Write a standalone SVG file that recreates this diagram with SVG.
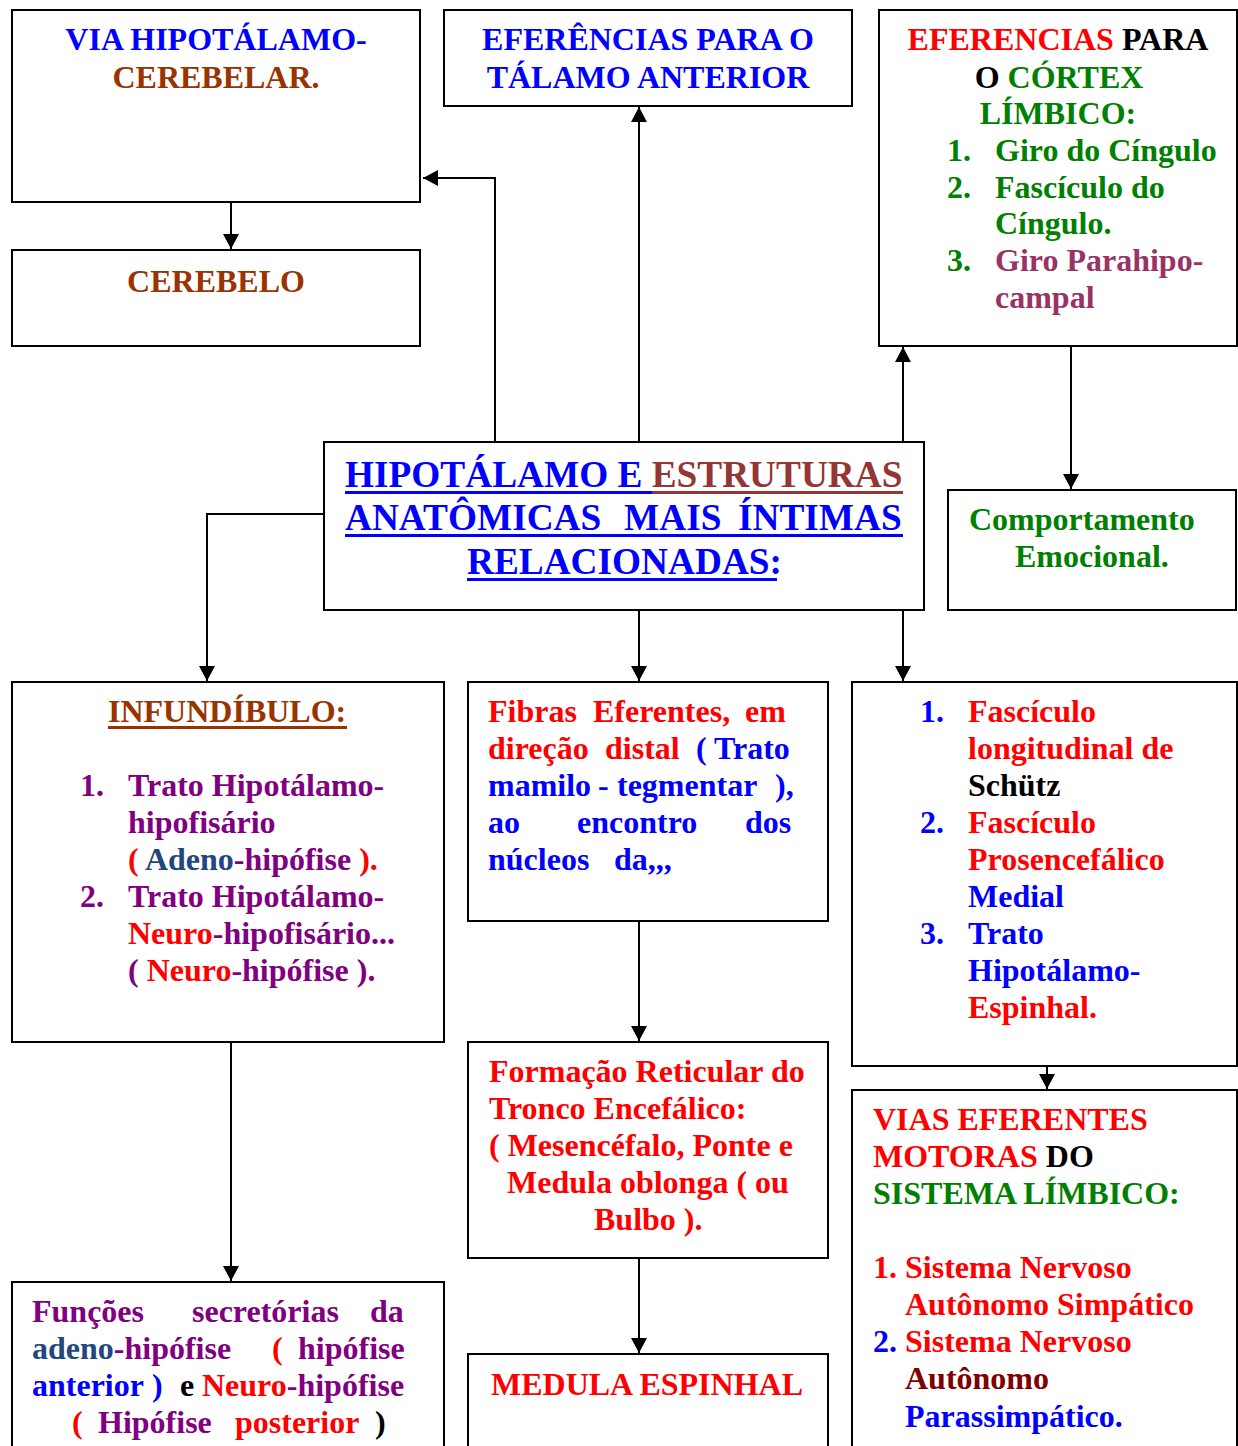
<svg xmlns="http://www.w3.org/2000/svg" width="1238" height="1446" viewBox="0 0 1238 1446">
  <style>
    .box { fill: #ffffff; stroke: #000000; stroke-width: 2; }
    .wire { fill: none; stroke: #000000; stroke-width: 2; }
    text { font-family: "Liberation Serif", "Times New Roman", serif; font-weight: bold; font-size: 32px; }
    .title { font-size: 37.3px; }
    .mid { text-anchor: middle; }
    .blue { fill: #0000ff; }
    .red { fill: #ff0000; }
    .green { fill: #008000; }
    .black { fill: #000000; }
    .rust { fill: #993300; }
    .brick { fill: #943634; }
    .mauve { fill: #993366; }
    .purple { fill: #800080; }
    .navy { fill: #1f497d; }
    .maroon { fill: #800000; }
  </style>
  <defs>
    <marker id="arrow" viewBox="0 0 15 16" markerWidth="15" markerHeight="16" refX="15" refY="8" orient="auto" markerUnits="userSpaceOnUse">
      <path d="M0,0 L15,8 L0,16 z" fill="#000000"/>
    </marker>
  </defs>
  <rect width="1238" height="1446" fill="#ffffff"/>

  <!-- connectors -->
  <g id="connectors">
    <path class="wire" d="M495,442 V178 H423" marker-end="url(#arrow)"/>
    <path class="wire" d="M231,202 V249" marker-end="url(#arrow)"/>
    <path class="wire" d="M639,442 V107" marker-end="url(#arrow)"/>
    <path class="wire" d="M903,442 V347" marker-end="url(#arrow)"/>
    <path class="wire" d="M1071,346 V489" marker-end="url(#arrow)"/>
    <path class="wire" d="M327,514 H207 V681" marker-end="url(#arrow)"/>
    <path class="wire" d="M639,610 V681" marker-end="url(#arrow)"/>
    <path class="wire" d="M903,610 V681" marker-end="url(#arrow)"/>
    <path class="wire" d="M639,921 V1041" marker-end="url(#arrow)"/>
    <path class="wire" d="M639,1258 V1353" marker-end="url(#arrow)"/>
    <path class="wire" d="M231,1042 V1281" marker-end="url(#arrow)"/>
    <path class="wire" d="M1047,1066 V1089" marker-end="url(#arrow)"/>
  </g>

  <!-- cerebellar pathway -->
  <g id="via-cerebelar">
    <rect class="box" x="12" y="10" width="408" height="192"/>
    <text class="mid blue" x="216" y="50">VIA HIPOTÁLAMO-</text>
    <text class="mid rust" x="216" y="88">CEREBELAR.</text>
  </g>

  <g id="cerebelo">
    <rect class="box" x="12" y="250" width="408" height="96"/>
    <text class="mid rust" x="216" y="292">CEREBELO</text>
  </g>

  <g id="talamo-anterior">
    <rect class="box" x="444" y="10" width="408" height="96"/>
    <text class="mid blue" x="648" y="50">EFERÊNCIAS PARA O</text>
    <text class="mid blue" x="648" y="88">TÁLAMO ANTERIOR</text>
  </g>

  <g id="cortex-limbico">
    <rect class="box" x="879" y="10" width="358" height="336"/>
    <text class="mid" x="1058" y="50"><tspan class="red">EFERENCIAS</tspan><tspan class="black"> PARA</tspan></text>
    <text class="mid" x="1059" y="88"><tspan class="black">O </tspan><tspan class="green">CÓRTEX</tspan></text>
    <text class="mid green" x="1058" y="124">LÍMBICO:</text>
    <text class="green" x="947" y="161">1.</text>
    <text class="green" x="995" y="161">Giro do Cíngulo</text>
    <text class="green" x="947" y="198">2.</text>
    <text class="green" x="995" y="198">Fascículo do</text>
    <text class="green" x="995" y="234">Cíngulo.</text>
    <text class="green" x="947" y="271">3.</text>
    <text class="mauve" x="995" y="271">Giro Parahipo-</text>
    <text class="mauve" x="995" y="308">campal</text>
  </g>

  <!-- central node -->
  <g id="hipotalamo">
    <rect class="box" x="324" y="442" width="600" height="168"/>
    <text class="title" x="345" y="487"><tspan class="blue">HIPOTÁLAMO E </tspan><tspan class="brick">ESTRUTURAS</tspan></text>
    <rect x="345" y="491" width="307" height="3" fill="#0000ff"/>
    <rect x="652" y="491" width="251" height="3" fill="#943634"/>
    <text class="title blue" y="530"><tspan x="345">ANATÔMICAS</tspan><tspan x="624">MAIS</tspan><tspan x="738">ÍNTIMAS</tspan></text>
    <rect x="345" y="534" width="558" height="3" fill="#0000ff"/>
    <text class="title blue" x="467" y="574">RELACIONADAS:</text>
    <rect x="467" y="578" width="310" height="3" fill="#0000ff"/>
  </g>

  <g id="comportamento">
    <rect class="box" x="948" y="490" width="288" height="120"/>
    <text class="green" x="969" y="530">Comportamento</text>
    <text class="green" x="1015" y="567">Emocional.</text>
  </g>

  <g id="infundibulo">
    <rect class="box" x="12" y="682" width="432" height="360"/>
    <text class="rust" x="108" y="722">INFUNDÍBULO:</text>
    <rect x="108" y="726" width="239" height="3" fill="#993300"/>
    <text class="purple" x="80" y="796">1.</text>
    <text class="purple" x="128" y="796">Trato Hipotálamo-</text>
    <text class="purple" x="128" y="833">hipofisário</text>
    <text x="128" y="870"><tspan class="red">( </tspan><tspan class="navy">Adeno</tspan><tspan class="purple">-hipófise</tspan><tspan class="red"> ).</tspan></text>
    <text class="purple" x="80" y="907">2.</text>
    <text class="purple" x="128" y="907">Trato Hipotálamo-</text>
    <text x="128" y="944"><tspan class="red">Neuro</tspan><tspan class="purple">-hipofisário...</tspan></text>
    <text x="128" y="981"><tspan class="purple">( </tspan><tspan class="red">Neuro</tspan><tspan class="purple">-hipófise ).</tspan></text>
  </g>

  <g id="fibras-eferentes">
    <rect class="box" x="468" y="682" width="360" height="239"/>
    <text class="red" y="722"><tspan x="488">Fibras</tspan><tspan x="593">Eferentes,</tspan><tspan x="745">em</tspan></text>
    <text y="759"><tspan class="red" x="488">direção</tspan><tspan class="red" x="605">distal</tspan><tspan class="blue" x="696">(</tspan><tspan class="blue" x="714">Trato</tspan></text>
    <text class="blue" y="796"><tspan x="488">mamilo</tspan><tspan x="598">-</tspan><tspan x="617">tegmentar</tspan><tspan x="775">),</tspan></text>
    <text class="blue" y="833"><tspan x="488">ao</tspan><tspan x="577">encontro</tspan><tspan x="745">dos</tspan></text>
    <text class="blue" y="870"><tspan x="488">núcleos</tspan><tspan x="614">da,,,</tspan></text>
  </g>

  <g id="vias-descendentes">
    <rect class="box" x="852" y="682" width="385" height="384"/>
    <text class="blue" x="920" y="722">1.</text>
    <text class="red" x="968" y="722">Fascículo</text>
    <text class="red" x="968" y="759">longitudinal de</text>
    <text class="black" x="968" y="796">Schütz</text>
    <text class="blue" x="920" y="833">2.</text>
    <text class="red" x="968" y="833">Fascículo</text>
    <text class="red" x="968" y="870">Prosencefálico</text>
    <text class="blue" x="968" y="907">Medial</text>
    <text class="blue" x="920" y="944">3.</text>
    <text class="blue" x="968" y="944">Trato</text>
    <text class="blue" x="968" y="981">Hipotálamo-</text>
    <text class="red" x="968" y="1018">Espinhal.</text>
  </g>

  <g id="formacao-reticular">
    <rect class="box" x="468" y="1042" width="360" height="216"/>
    <text class="red" x="489" y="1082">Formação Reticular do</text>
    <text class="red" x="489" y="1119">Tronco Encefálico:</text>
    <text class="red" x="489" y="1156">( Mesencéfalo, Ponte e</text>
    <text class="red" x="507" y="1193">Medula oblonga ( ou</text>
    <text class="red" x="594" y="1230">Bulbo ).</text>
  </g>

  <g id="medula-espinhal">
    <rect class="box" x="468" y="1354" width="360" height="100"/>
    <text class="mid red" x="647" y="1395">MEDULA ESPINHAL</text>
  </g>

  <g id="funcoes-secretorias">
    <rect class="box" x="12" y="1282" width="432" height="172"/>
    <text class="purple" y="1322"><tspan x="32">Funções</tspan><tspan x="192">secretórias</tspan><tspan x="370">da</tspan></text>
    <text y="1359"><tspan class="navy" x="32">adeno</tspan><tspan class="purple">-hipófise</tspan><tspan class="red" x="272">(</tspan><tspan class="purple" x="298">hipófise</tspan></text>
    <text y="1396"><tspan class="blue" x="32">anterior</tspan><tspan class="blue" x="152">)</tspan><tspan class="black" x="180">e</tspan><tspan class="red" x="202">Neuro</tspan><tspan class="purple">-hipófise</tspan></text>
    <text y="1433"><tspan class="red" x="72">(</tspan><tspan class="purple" x="98">Hipófise</tspan><tspan class="red" x="235">posterior</tspan><tspan class="black" x="375">)</tspan></text>
  </g>

  <g id="vias-motoras">
    <rect class="box" x="852" y="1090" width="385" height="364"/>
    <text class="red" x="873" y="1130">VIAS EFERENTES</text>
    <text x="873" y="1167"><tspan class="red">MOTORAS </tspan><tspan class="black">DO</tspan></text>
    <text class="green" x="873" y="1204">SISTEMA LÍMBICO:</text>
    <text class="red" x="873" y="1278">1.</text>
    <text class="red" x="905" y="1278">Sistema Nervoso</text>
    <text class="red" x="905" y="1315">Autônomo Simpático</text>
    <text class="blue" x="873" y="1352">2.</text>
    <text class="red" x="905" y="1352">Sistema Nervoso</text>
    <text class="maroon" x="905" y="1389">Autônomo</text>
    <text class="blue" x="905" y="1427">Parassimpático.</text>
  </g>
</svg>
